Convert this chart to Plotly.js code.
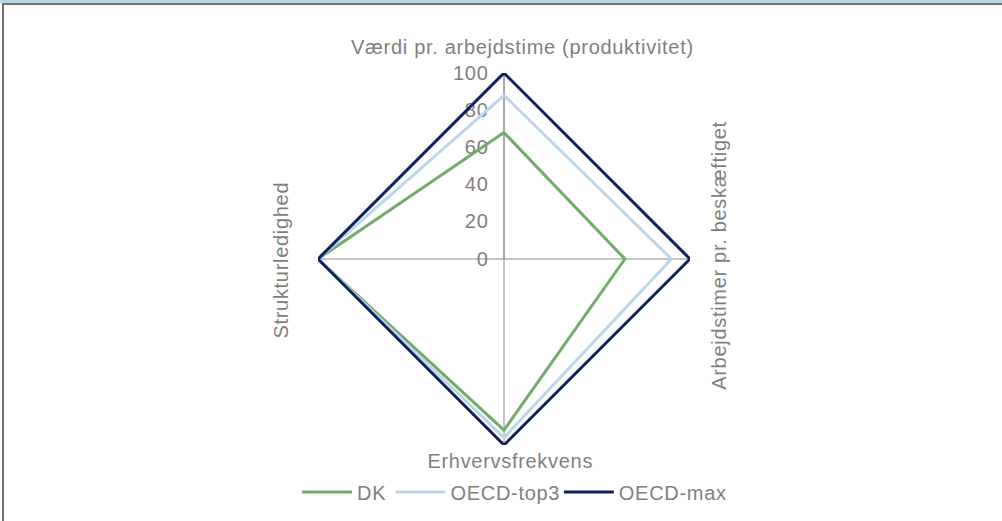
<!DOCTYPE html>
<html>
<head>
<meta charset="utf-8">
<script src="https://cdn.plot.ly/plotly-3.0.1.min.js"></script>
<style>
  html, body { margin: 0; padding: 0; background: #fff; }
  #wrap { position: relative; width: 1002px; height: 521px; overflow: hidden; }
  #chart { position: absolute; left: 0; top: 0; width: 1002px; height: 521px; }
  #chart svg text { letter-spacing: 0.7px; }
  .band { position: absolute; left: 0; top: 0; width: 1002px; height: 3px; background: #BCD5E3; z-index: 5; }
  .topline { position: absolute; left: 2px; top: 3px; width: 1000px; height: 2px; background: #6F6F74; z-index: 5; }
  .leftline { position: absolute; left: 2px; top: 3px; width: 2px; height: 518px; background: #6F6F74; z-index: 5; }
</style>
</head>
<body>
<div id="wrap">
  <div id="chart"></div>
  <div class="band"></div>
  <div class="topline"></div>
  <div class="leftline"></div>
</div>
<script>
// Data
const categories = [
  "Værdi pr. arbejdstime (produktivitet)",
  "Arbejdstimer pr. beskæftiget",
  "Erhvervsfrekvens",
  "Strukturledighed"
];
const seriesNames = ["DK", "OECD-top3", "OECD-max"];
const dkValues = [68, 65, 92, 100];
const top3Values = [88, 90, 96, 100];
const maxValues = [100, 100, 100, 100];
const radialTicks = [0, 20, 40, 60, 80, 100];

const colors = ["#72AC6A", "#BDD7E8", "#0F1E5C"];
const gray = "#7F7F7F";
const font = "Liberation Sans, Arial, sans-serif";
const fs = 20;

function closeLoop(arr) { return arr.concat([arr[0]]); }

const allValues = [dkValues, top3Values, maxValues];
const traces = allValues.map((vals, i) => ({
  type: "scatterpolar",
  mode: "lines",
  name: seriesNames[i],
  r: closeLoop(vals),
  theta: closeLoop(categories),
  line: { color: colors[i], width: 3 },
  hoverinfo: "skip"
}));

const W = 1002, H = 521;
const cx = 504, cy = 259, R = 186;

const layout = {
  width: W, height: H,
  margin: { l: 0, r: 0, t: 0, b: 0 },
  paper_bgcolor: "#ffffff",
  showlegend: true,
  font: { family: font, color: gray, size: fs },
  polar: {
    domain: { x: [(cx - R) / W, (cx + R) / W], y: [1 - (cy + R) / H, 1 - (cy - R) / H] },
    bgcolor: "rgba(0,0,0,0)",
    radialaxis: {
      range: [0, 100],
      angle: 90,
      tickangle: 90,
      tickvals: radialTicks,
      ticktext: radialTicks.map(String),
      showgrid: false,
      showline: true,
      linecolor: "#8C8C8C",
      linewidth: 1,
      ticks: "outside",
      ticklen: 8,
      tickcolor: "rgba(0,0,0,0)",
      side: "counterclockwise",
      tickfont: { family: font, size: fs, color: gray },
      layer: "below traces"
    },
    angularaxis: {
      type: "category",
      categoryarray: categories,
      direction: "clockwise",
      rotation: 90,
      showline: false,
      showgrid: true,
      gridcolor: "#8C8C8C",
      gridwidth: 1,
      showticklabels: false,
      ticks: "",
      layer: "below traces"
    }
  },
  legend: {
    orientation: "h",
    x: 0.511, xanchor: "center",
    y: 1 - 492 / H, yanchor: "middle",
    font: { family: font, size: fs, color: gray },
    itemwidth: 50,
    traceorder: "normal"
  },
  annotations: [
    { text: categories[0], xref: "paper", yref: "paper", x: 522 / W, y: 1 - 47 / H, showarrow: false, xanchor: "center", yanchor: "middle", font: { family: font, size: fs, color: gray } },
    { text: categories[1], xref: "paper", yref: "paper", x: 719 / W, y: 1 - 256 / H, showarrow: false, textangle: -90, xanchor: "center", yanchor: "middle", font: { family: font, size: fs, color: gray } },
    { text: categories[2], xref: "paper", yref: "paper", x: 510 / W, y: 1 - 461 / H, showarrow: false, xanchor: "center", yanchor: "middle", font: { family: font, size: fs, color: gray } },
    { text: categories[3], xref: "paper", yref: "paper", x: 281 / W, y: 1 - 260 / H, showarrow: false, textangle: -90, xanchor: "center", yanchor: "middle", font: { family: font, size: fs, color: gray } }
  ]
};

Plotly.newPlot("chart", traces, layout, { displayModeBar: false, staticPlot: true });
</script>
</body>
</html>
